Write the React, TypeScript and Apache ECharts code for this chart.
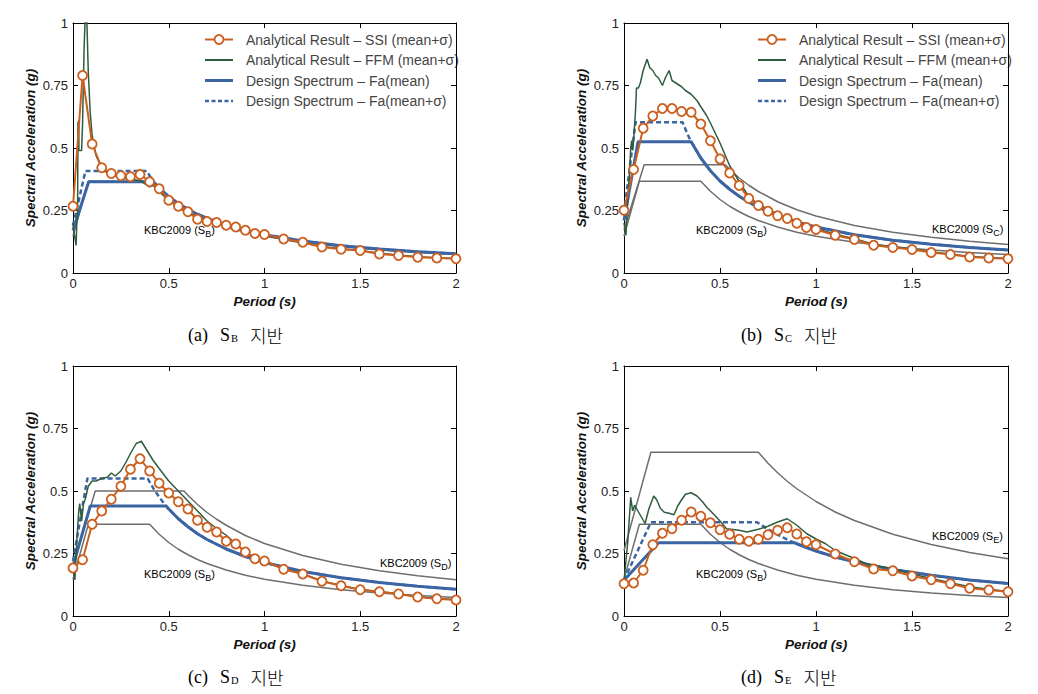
import React, { useEffect, useRef } from "react";
import * as echarts from "echarts";

// ---------- data ----------
const periodsSSI = [0, 0.05, 0.1, 0.15, 0.2, 0.25, 0.3, 0.35, 0.4, 0.45, 0.5, 0.55, 0.6, 0.65, 0.7, 0.75, 0.8, 0.85, 0.9, 0.95, 1.0, 1.1, 1.2, 1.3, 1.4, 1.5, 1.6, 1.7, 1.8, 1.9, 2.0];

const ssiA = [0.267, 0.79, 0.516, 0.421, 0.398, 0.389, 0.385, 0.394, 0.365, 0.337, 0.291, 0.267, 0.245, 0.215, 0.206, 0.202, 0.191, 0.184, 0.171, 0.158, 0.154, 0.136, 0.123, 0.104, 0.095, 0.09, 0.076, 0.07, 0.063, 0.06, 0.057];
const ssiB = [0.251, 0.414, 0.579, 0.628, 0.658, 0.658, 0.646, 0.643, 0.596, 0.529, 0.456, 0.4, 0.35, 0.298, 0.27, 0.247, 0.229, 0.218, 0.199, 0.182, 0.174, 0.151, 0.134, 0.111, 0.102, 0.094, 0.082, 0.074, 0.064, 0.06, 0.057];
const ssiC = [0.192, 0.225, 0.367, 0.42, 0.467, 0.519, 0.587, 0.629, 0.58, 0.531, 0.492, 0.457, 0.428, 0.383, 0.355, 0.336, 0.299, 0.288, 0.256, 0.229, 0.22, 0.187, 0.168, 0.139, 0.121, 0.105, 0.097, 0.088, 0.076, 0.069, 0.064];
const ssiD = [0.129, 0.132, 0.183, 0.285, 0.331, 0.349, 0.383, 0.416, 0.399, 0.373, 0.345, 0.327, 0.307, 0.299, 0.307, 0.325, 0.343, 0.353, 0.328, 0.297, 0.285, 0.248, 0.217, 0.188, 0.181, 0.16, 0.145, 0.129, 0.111, 0.104, 0.097];

const ffmA = [[0, 0.2], [0.008, 0.15], [0.016, 0.11], [0.02, 0.2], [0.024, 0.24], [0.026, 0.6], [0.03, 0.61], [0.031, 0.49], [0.045, 0.49], [0.05, 0.6], [0.058, 0.9], [0.065, 1.05], [0.072, 1.02], [0.08, 0.8], [0.09, 0.64], [0.1, 0.55], [0.12, 0.47], [0.15, 0.42], [0.18, 0.4], [0.2, 0.395], [0.25, 0.38], [0.3, 0.375], [0.35, 0.37], [0.38, 0.355], [0.4, 0.345], [0.42, 0.35], [0.45, 0.325], [0.5, 0.29], [0.55, 0.262], [0.6, 0.24], [0.65, 0.222], [0.7, 0.208], [0.75, 0.198], [0.8, 0.188], [0.85, 0.18], [0.9, 0.168], [0.95, 0.158], [1.0, 0.15], [1.1, 0.134], [1.2, 0.12], [1.3, 0.106], [1.4, 0.097], [1.5, 0.09], [1.6, 0.079], [1.7, 0.072], [1.8, 0.065], [1.9, 0.061], [2.0, 0.058]];
const ffmB = [[0, 0.2], [0.01, 0.15], [0.02, 0.3], [0.03, 0.42], [0.035, 0.5], [0.04, 0.53], [0.045, 0.49], [0.05, 0.53], [0.06, 0.65], [0.065, 0.74], [0.075, 0.74], [0.085, 0.76], [0.1, 0.81], [0.12, 0.855], [0.135, 0.82], [0.15, 0.81], [0.165, 0.79], [0.18, 0.78], [0.2, 0.75], [0.215, 0.78], [0.235, 0.81], [0.25, 0.77], [0.27, 0.76], [0.3, 0.745], [0.32, 0.73], [0.35, 0.715], [0.38, 0.69], [0.4, 0.665], [0.43, 0.63], [0.45, 0.6], [0.5, 0.52], [0.55, 0.43], [0.6, 0.365], [0.65, 0.305], [0.7, 0.275], [0.75, 0.255], [0.8, 0.235], [0.85, 0.222], [0.9, 0.205], [0.95, 0.19], [1.0, 0.178], [1.1, 0.155], [1.2, 0.137], [1.3, 0.115], [1.4, 0.105], [1.5, 0.096], [1.6, 0.084], [1.7, 0.076], [1.8, 0.066], [1.9, 0.062], [2.0, 0.058]];
const ffmC = [[0, 0.19], [0.01, 0.145], [0.02, 0.3], [0.03, 0.42], [0.035, 0.45], [0.045, 0.38], [0.055, 0.45], [0.065, 0.47], [0.08, 0.52], [0.09, 0.53], [0.1, 0.54], [0.12, 0.54], [0.15, 0.55], [0.18, 0.555], [0.2, 0.572], [0.22, 0.56], [0.25, 0.58], [0.28, 0.62], [0.3, 0.65], [0.33, 0.69], [0.357, 0.699], [0.38, 0.67], [0.418, 0.623], [0.45, 0.59], [0.5, 0.54], [0.55, 0.5], [0.6, 0.46], [0.65, 0.42], [0.7, 0.38], [0.75, 0.35], [0.8, 0.323], [0.87, 0.276], [0.9, 0.26], [0.95, 0.232], [1.0, 0.22], [1.1, 0.188], [1.2, 0.168], [1.3, 0.14], [1.4, 0.122], [1.5, 0.106], [1.6, 0.098], [1.7, 0.089], [1.8, 0.077], [1.9, 0.07], [2.0, 0.065]];
const ffmD = [[0, 0.14], [0.02, 0.3], [0.035, 0.475], [0.045, 0.42], [0.055, 0.443], [0.065, 0.43], [0.08, 0.41], [0.095, 0.39], [0.11, 0.37], [0.13, 0.43], [0.155, 0.48], [0.17, 0.465], [0.19, 0.43], [0.21, 0.415], [0.24, 0.41], [0.26, 0.405], [0.28, 0.44], [0.3, 0.465], [0.32, 0.487], [0.35, 0.493], [0.38, 0.48], [0.41, 0.456], [0.43, 0.436], [0.465, 0.409], [0.5, 0.38], [0.534, 0.349], [0.6, 0.343], [0.64, 0.336], [0.7, 0.347], [0.75, 0.359], [0.8, 0.376], [0.85, 0.389], [0.9, 0.363], [0.95, 0.33], [1.0, 0.308], [1.05, 0.289], [1.1, 0.262], [1.2, 0.23], [1.28, 0.203], [1.4, 0.19], [1.5, 0.168], [1.6, 0.15], [1.7, 0.133], [1.8, 0.117], [1.9, 0.107], [2.0, 0.098]];

const meanA = [[0, 0.17], [0.082, 0.365], [0.42, 0.365], [0.45, 0.34], [0.5, 0.306], [0.55, 0.278], [0.6, 0.255], [0.65, 0.235], [0.7, 0.219], [0.8, 0.191], [0.9, 0.17], [1.0, 0.153], [1.2, 0.128], [1.4, 0.109], [1.6, 0.096], [1.8, 0.085], [2.0, 0.077]];
const sigmaA = [[0, 0.19], [0.065, 0.408], [0.385, 0.408], [0.42, 0.365], [0.45, 0.34], [0.5, 0.306], [0.55, 0.278], [0.6, 0.255], [0.65, 0.235], [0.7, 0.219], [0.8, 0.191], [0.9, 0.17], [1.0, 0.153], [1.2, 0.128], [1.4, 0.109], [1.6, 0.096], [1.8, 0.085], [2.0, 0.077]];
const meanB = [[0, 0.21], [0.073, 0.525], [0.35, 0.525], [0.4, 0.46], [0.45, 0.409], [0.5, 0.368], [0.55, 0.335], [0.6, 0.307], [0.65, 0.283], [0.7, 0.263], [0.8, 0.23], [0.9, 0.204], [1.0, 0.184], [1.2, 0.153], [1.4, 0.131], [1.6, 0.115], [1.8, 0.102], [2.0, 0.092]];
const sigmaB = [[0, 0.24], [0.06, 0.603], [0.305, 0.603], [0.33, 0.557], [0.35, 0.525], [0.4, 0.46], [0.45, 0.409], [0.5, 0.368], [0.55, 0.335], [0.6, 0.307], [0.65, 0.283], [0.7, 0.263], [0.8, 0.23], [0.9, 0.204], [1.0, 0.184], [1.2, 0.153], [1.4, 0.131], [1.6, 0.115], [1.8, 0.102], [2.0, 0.092]];
const meanC = [[0, 0.2], [0.09, 0.44], [0.486, 0.44], [0.5, 0.428], [0.55, 0.389], [0.6, 0.357], [0.65, 0.329], [0.7, 0.306], [0.8, 0.268], [0.9, 0.238], [1.0, 0.214], [1.2, 0.178], [1.4, 0.153], [1.6, 0.134], [1.8, 0.119], [2.0, 0.107]];
const sigmaC = [[0, 0.22], [0.075, 0.55], [0.39, 0.55], [0.42, 0.51], [0.45, 0.476], [0.486, 0.44], [0.5, 0.428], [0.55, 0.389], [0.6, 0.357], [0.65, 0.329], [0.7, 0.306], [0.8, 0.268], [0.9, 0.238], [1.0, 0.214], [1.2, 0.178], [1.4, 0.153], [1.6, 0.134], [1.8, 0.119], [2.0, 0.107]];
const meanD = [[0, 0.143], [0.18, 0.293], [0.887, 0.293], [0.95, 0.274], [1.0, 0.26], [1.1, 0.236], [1.2, 0.217], [1.4, 0.186], [1.6, 0.163], [1.8, 0.144], [2.0, 0.13]];
const sigmaD = [[0, 0.143], [0.14, 0.375], [0.693, 0.375], [0.75, 0.347], [0.8, 0.325], [0.85, 0.306], [0.887, 0.293], [0.95, 0.274], [1.0, 0.26], [1.1, 0.236], [1.2, 0.217], [1.4, 0.186], [1.6, 0.163], [1.8, 0.144], [2.0, 0.13]];

const kbcSB = [[0, 0.147], [0.08, 0.367], [0.4, 0.367], [0.45, 0.327], [0.5, 0.294], [0.55, 0.267], [0.6, 0.245], [0.65, 0.226], [0.7, 0.21], [0.8, 0.184], [0.9, 0.163], [1.0, 0.147], [1.2, 0.123], [1.4, 0.105], [1.6, 0.092], [1.8, 0.082], [2.0, 0.074]];
const kbcSC = [[0, 0.173], [0.105, 0.433], [0.527, 0.433], [0.55, 0.415], [0.6, 0.38], [0.65, 0.351], [0.7, 0.326], [0.8, 0.285], [0.9, 0.253], [1.0, 0.228], [1.2, 0.19], [1.4, 0.163], [1.6, 0.143], [1.8, 0.127], [2.0, 0.114]];
const kbcSD = [[0, 0.2], [0.116, 0.5], [0.58, 0.5], [0.6, 0.483], [0.65, 0.446], [0.7, 0.414], [0.75, 0.387], [0.8, 0.363], [0.9, 0.322], [1.0, 0.29], [1.2, 0.242], [1.4, 0.207], [1.6, 0.181], [1.8, 0.161], [2.0, 0.145]];
const kbcSE = [[0, 0.262], [0.14, 0.655], [0.7, 0.655], [0.75, 0.611], [0.8, 0.573], [0.85, 0.539], [0.9, 0.509], [1.0, 0.458], [1.1, 0.416], [1.2, 0.382], [1.4, 0.327], [1.6, 0.286], [1.8, 0.254], [2.0, 0.229]];

const xTicks = { min: 0, max: 2, interval: 0.5 };
const yTicks = { min: 0, max: 1, interval: 0.25 };

const NAME_SSI = "Analytical Result \u2013 SSI (mean+\u03c3)";
const NAME_FFM = "Analytical Result \u2013 FFM (mean+\u03c3)";
const NAME_MEAN = "Design Spectrum \u2013 Fa(mean)";
const NAME_SIG = "Design Spectrum \u2013 Fa(mean+\u03c3)";
const legendNames = [NAME_SSI, NAME_FFM, NAME_MEAN, NAME_SIG];

const captions = [
  { label: "(a)", sub: "B" },
  { label: "(b)", sub: "C" },
  { label: "(c)", sub: "D" },
  { label: "(d)", sub: "E" },
];

// ---------- styling / layout ----------
const FONT = "'Liberation Sans', Arial, sans-serif";
const ORANGE = "#CC5F1F";
const GREEN = "#2E5D3E";
const BLUE = "#3B65A2";
const GRAY = "#6E6E6E";

const grids = [
  { left: 73, top: 23, width: 383, height: 250 },
  { left: 624, top: 23, width: 384, height: 250 },
  { left: 73, top: 366, width: 383, height: 250 },
  { left: 624, top: 366, width: 384, height: 250 },
];

const panels = [
  { ssi: ssiA, ffm: ffmA, mean: meanA, sigma: sigmaA, kbc: [kbcSB] },
  { ssi: ssiB, ffm: ffmB, mean: meanB, sigma: sigmaB, kbc: [kbcSB, kbcSC] },
  { ssi: ssiC, ffm: ffmC, mean: meanC, sigma: sigmaC, kbc: [kbcSB, kbcSD] },
  { ssi: ssiD, ffm: ffmD, mean: meanD, sigma: sigmaD, kbc: [kbcSB, kbcSE] },
];

const kbcLabels = [
  { x: 144, y: 230, sub: "B" },
  { x: 696, y: 230, sub: "B" },
  { x: 932, y: 229, sub: "C" },
  { x: 144, y: 574, sub: "B" },
  { x: 380, y: 563, sub: "D" },
  { x: 696, y: 574, sub: "B" },
  { x: 932, y: 536, sub: "E" },
];

const captionPos = [
  { x: 188, y: 333 },
  { x: 741, y: 333 },
  { x: 188, y: 675 },
  { x: 741, y: 675 },
];

const legendPos = [
  { x: 205, y: 39.5 },
  { x: 758, y: 39.5 },
];
const legendRowGap = 20.5;

function buildLegend(x0: number, y0: number) {
  const items: any[] = [];
  const styles = [
    { stroke: ORANGE, lineWidth: 2, marker: true },
    { stroke: GREEN, lineWidth: 2 },
    { stroke: BLUE, lineWidth: 3 },
    { stroke: BLUE, lineWidth: 2.5, lineDash: [4, 2.5] },
  ];
  legendNames.forEach((name, i) => {
    const y = y0 + i * legendRowGap;
    const s: any = styles[i];
    items.push({
      type: "line",
      shape: { x1: x0, y1: y, x2: x0 + 28, y2: y },
      style: { stroke: s.stroke, lineWidth: s.lineWidth, lineDash: s.lineDash || null },
    });
    if (s.marker) {
      items.push({
        type: "circle",
        shape: { cx: x0 + 14, cy: y, r: 4.5 },
        style: { fill: "#fff", stroke: ORANGE, lineWidth: 1.8 },
      });
    }
    items.push({
      type: "text",
      x: x0 + 41,
      y: y,
      style: { text: name, fill: "#444", fontSize: 14, fontFamily: FONT, align: "left", verticalAlign: "middle" },
    });
  });
  return items;
}

function buildOption() {
  const xAxis: any[] = [];
  const yAxis: any[] = [];
  const series: any[] = [];
  const axisLine = { show: true, onZero: false, lineStyle: { color: "#000", width: 1 } };
  const axisTick = { show: true, inside: true, length: 5, lineStyle: { color: "#000", width: 1 } };

  grids.forEach((g, i) => {
    xAxis.push({
      type: "value", gridIndex: i, position: "bottom", ...xTicks,
      axisLine, axisTick, splitLine: { show: false },
      axisLabel: { color: "#222", fontSize: 13, fontFamily: FONT, margin: 4 },
      name: "Period (s)", nameLocation: "middle", nameGap: 21,
      nameTextStyle: { fontWeight: "bold", fontStyle: "italic", fontSize: 13.5, color: "#111", fontFamily: FONT },
    });
    xAxis.push({
      type: "value", gridIndex: i, position: "top", ...xTicks,
      axisLine, axisTick, splitLine: { show: false }, axisLabel: { show: false },
    });
    yAxis.push({
      type: "value", gridIndex: i, position: "left", ...yTicks,
      axisLine, axisTick, splitLine: { show: false },
      axisLabel: { color: "#222", fontSize: 13, fontFamily: FONT, margin: 5 },
      name: "Spectral Acceleration (g)", nameLocation: "middle", nameGap: 36,
      nameTextStyle: { fontWeight: "bold", fontStyle: "italic", fontSize: 13.5, color: "#111", fontFamily: FONT },
    });
    yAxis.push({
      type: "value", gridIndex: i, position: "right", ...yTicks,
      axisLine, axisTick, splitLine: { show: false }, axisLabel: { show: false },
    });

    const p = panels[i];
    const ax = { xAxisIndex: 2 * i, yAxisIndex: 2 * i };
    p.kbc.forEach((k, j) => {
      series.push({
        type: "line", name: "KBC2009-" + i + "-" + j, ...ax, data: k, symbol: "none",
        lineStyle: { color: GRAY, width: 1.5 }, itemStyle: { color: GRAY }, z: 2, silent: true,
      });
    });
    series.push({
      type: "line", name: NAME_MEAN, ...ax, data: p.mean, symbol: "none",
      lineStyle: { color: BLUE, width: 3 }, itemStyle: { color: BLUE }, z: 3,
    });
    series.push({
      type: "line", name: NAME_SIG, ...ax, data: p.sigma, symbol: "none",
      lineStyle: { color: BLUE, width: 2.5, type: [5, 3] }, itemStyle: { color: BLUE }, z: 4,
    });
    series.push({
      type: "line", name: NAME_FFM, ...ax, data: p.ffm, symbol: "none",
      lineStyle: { color: GREEN, width: 1.5 }, itemStyle: { color: GREEN }, z: 5,
    });
    series.push({
      type: "line", name: NAME_SSI, ...ax,
      data: periodsSSI.map((t, k) => [t, p.ssi[k]]),
      symbol: "circle", symbolSize: 9, showSymbol: true,
      lineStyle: { color: ORANGE, width: 2 },
      itemStyle: { color: "#fff", borderColor: ORANGE, borderWidth: 1.8 }, z: 6,
    });
  });

  const graphic: any[] = [];
  legendPos.forEach((lp) => {
    buildLegend(lp.x, lp.y).forEach((e) => graphic.push(e));
  });
  kbcLabels.forEach((l) => {
    graphic.push({
      type: "text", x: l.x, y: l.y,
      style: {
        text: "{n|KBC2009 (S}{s|" + l.sub + "}{n|)}",
        align: "left", verticalAlign: "middle",
        rich: {
          n: { fontSize: 11, fontFamily: FONT, color: "#222", lineHeight: 16, verticalAlign: "middle" },
          s: { fontSize: 9, fontFamily: FONT, color: "#222", lineHeight: 9, verticalAlign: "bottom" },
        },
      },
    });
  });
  captions.forEach((c, i) => {
    const pos = captionPos[i];
    graphic.push({
      type: "text", x: pos.x, y: pos.y,
      style: {
        text: "{p|" + c.label + "}{t|S}{s|" + c.sub + "}{k|\uC9C0\uBC18}",
        align: "left", verticalAlign: "middle",
        rich: {
          p: { fontSize: 18, fontFamily: "'Liberation Serif', serif", color: "#333", padding: [0, 12, 0, 0], verticalAlign: "bottom", lineHeight: 21 },
          t: { fontSize: 18, fontFamily: "'Liberation Serif', serif", color: "#333", verticalAlign: "bottom", lineHeight: 21 },
          s: { fontSize: 10.5, fontFamily: "'Liberation Serif', serif", color: "#333", padding: [0, 12, 0, 1], verticalAlign: "bottom", lineHeight: 15 },
          k: { fontSize: 18, fontFamily: "'Noto Sans CJK KR', sans-serif", fontWeight: 300, color: "#333", verticalAlign: "bottom", lineHeight: 21 },
        },
      },
    });
  });

  return {
    animation: false,
    backgroundColor: "#fff",
    grid: grids.map((g) => ({ ...g, containLabel: false })),
    xAxis, yAxis, series,
    graphic,
  };
}

export default function App() {
  const ref = useRef<HTMLDivElement>(null);
  useEffect(() => {
    const chart = echarts.init(ref.current as HTMLDivElement, null, { renderer: "svg" });
    chart.setOption(buildOption() as any);
    return () => chart.dispose();
  }, []);
  return (
    <div
      ref={ref}
      style={{ position: "absolute", left: 0, top: 0, width: 1038, height: 694, background: "#fff" }}
    />
  );
}
